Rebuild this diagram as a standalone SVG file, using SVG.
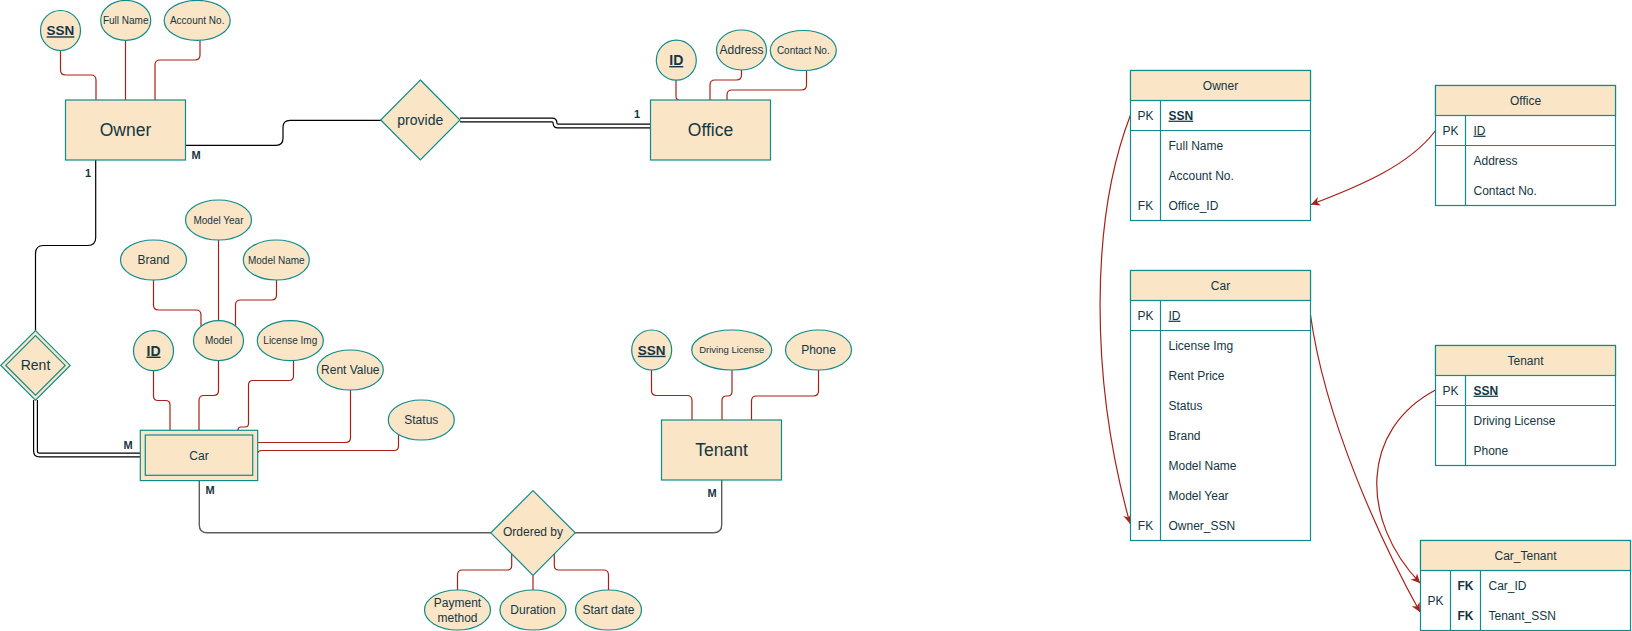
<svg xmlns="http://www.w3.org/2000/svg" width="1632" height="631" viewBox="0 0 1632 631">
<style>
.sh{fill:#FAE5C7;stroke:#0F8B8D;stroke-width:1.2}
.row{fill:#FFFFFF;stroke:#0F8B8D;stroke-width:1.2}
.ln{fill:none;stroke:#0F8B8D;stroke-width:1.2}
.t{font-family:"Liberation Sans",Arial,Helvetica,sans-serif;fill:#143642;text-anchor:middle}
.tl{font-family:"Liberation Sans",Arial,Helvetica,sans-serif;fill:#143642;text-anchor:start;font-size:12px}
.key{font-weight:bold;text-decoration:underline}
.lab{font-family:"Liberation Sans",Arial,Helvetica,sans-serif;fill:#143642;font-size:11px;font-weight:bold;text-anchor:middle}
.att{fill:none;stroke:#A8201A;stroke-width:1.2}
.rel{fill:none;stroke:#000000;stroke-width:1.2}
.grey{fill:none;stroke:#5c5c5c;stroke-width:1.4}
.dblo{fill:none;stroke:#000000;stroke-width:5}
.dbli{fill:none;stroke:#FFFFFF;stroke-width:2.6}
.fk{fill:none;stroke:#A8201A;stroke-width:1.2;marker-end:url(#arr)}
</style>
<defs>
<marker id="arr" viewBox="0 0 10 10" refX="10" refY="5" markerWidth="9" markerHeight="9" markerUnits="userSpaceOnUse" orient="auto">
<path d="M0,0 L10,5 L0,10 L3,5 z" fill="#A8201A"/>
</marker>
</defs>
<rect width="1632" height="631" fill="#FFFFFF"/>

<g id="connectors">
<!-- Owner attributes -->
<path class="att" d="M60.5,50.5 V70 Q60.5,75 65.5,75 H91 Q96,75 96,80 V100"/>
<path class="att" d="M125.5,40.5 V100"/>
<path class="att" d="M200,40.5 V55 Q200,60 195,60 H160 Q155,60 155,65 V100"/>
<!-- Office attributes -->
<path class="att" d="M676,80 V96 Q676,100 679,100"/>
<path class="att" d="M741.5,70 V75 Q741.5,80 736.5,80 H715 Q710,80 710,85 V100"/>
<path class="att" d="M806.5,70.5 V85 Q806.5,90 801.5,90 H732 Q727,90 727,95 V100"/>
<!-- Model attributes -->
<path class="att" d="M153.5,280 V305 Q153.5,310 158.5,310 H196 Q201,310 201,315 V326"/>
<path class="att" d="M218.5,240 V320.7"/>
<path class="att" d="M276.5,280 V295 Q276.5,300 271.5,300 H240.5 Q235.5,300 235.5,305 V326"/>
<!-- Car attributes -->
<path class="att" d="M153.5,370.7 V396 Q153.5,400.5 158,400.5 H165.5 Q170,400.5 170,405 V430"/>
<path class="att" d="M218.5,360.7 V390.5 Q218.5,395.5 213.5,395.5 H204 Q199,395.5 199,400.5 V430"/>
<path class="att" d="M293.5,360 V376 Q293.5,380.5 289,380.5 H253 Q248.5,380.5 248.5,385 V423.5 Q248.5,427 245,427 H241 Q238,427 238,430"/>
<path class="att" d="M350.5,390 V437.5 Q350.5,442.5 345.5,442.5 H258"/>
<path class="att" d="M398.5,434 V446 Q398.5,450.5 394,450.5 H262 Q258,450.5 258,453"/>
<!-- Tenant attributes -->
<path class="att" d="M651.5,370 V390.5 Q651.5,395.5 656.5,395.5 H687 Q692,395.5 692,400.5 V420"/>
<path class="att" d="M732,370 V391.5 Q732,396 727.5,396 H726.5 Q722,396 722,400.5 V420"/>
<path class="att" d="M818.5,370 V391 Q818.5,396 813.5,396 H756.5 Q751.5,396 751.5,401 V420"/>
<!-- Ordered by attributes -->
<path class="att" d="M511.7,553.5 V565.5 Q511.7,570 507.2,570 H462.5 Q457.5,570 457.5,575 V590"/>
<path class="att" d="M533,575.5 V590"/>
<path class="att" d="M554.3,553.5 V565.5 Q554.3,570 558.8,570 H603.5 Q608.5,570 608.5,575 V590"/>
<!-- Relationships -->
<path class="rel" d="M185.5,145.3 H276 Q283,145.3 283,138.3 V127.3 Q283,120.3 290,120.3 H381"/>
<path class="dblo" d="M460,120 H552 Q555,120 555,123 Q555,126 558,126 H650"/>
<path class="dbli" d="M460,120 H552 Q555,120 555,123 Q555,126 558,126 H650"/>
<path class="rel" d="M95.7,160 V237.5 Q95.7,245.5 87.7,245.5 H43.5 Q35.5,245.5 35.5,253.5 V331"/>
<path class="dblo" d="M35.5,400 V451 Q35.5,455 39.5,455 H140"/>
<path class="dbli" d="M35.5,400 V451 Q35.5,455 39.5,455 H140"/>
<path class="grey" d="M199.3,480.5 V525 Q199.3,532.8 207.3,532.8 H491"/>
<path class="grey" d="M575,532.8 H713.5 Q721.7,532.8 721.7,524.8 V480"/>
<!-- Foreign keys -->
<path class="fk" d="M1435.5,130.5 C1410,165 1360,186 1311,204.5"/>
<path class="fk" d="M1130.5,115 C1090,220 1090,380 1130,523.5"/>
<path class="fk" d="M1310.5,315 C1325,420 1380,540 1420,612"/>
<path class="fk" d="M1435.5,390 C1360,430 1360,520 1420,583"/>
</g>

<!-- Owner entity -->
<g id="owner">
<rect class="sh" x="65.5" y="100" width="120" height="60"/>
<text class="t" x="125.5" y="136.2" font-size="17.5">Owner</text>
</g>
<g id="owner-ssn">
<circle class="sh" cx="60.5" cy="30.5" r="20"/>
<text class="t key" x="60.5" y="35.3" font-size="13.5">SSN</text>
</g>
<g id="owner-fullname">
<ellipse class="sh" cx="125.7" cy="20.4" rx="25" ry="20"/>
<text class="t" x="125.7" y="23.9" font-size="10">Full Name</text>
</g>
<g id="owner-account">
<ellipse class="sh" cx="197.2" cy="20.4" rx="33" ry="20"/>
<text class="t" x="197.2" y="23.9" font-size="10">Account No.</text>
</g>

<!-- provide -->
<g id="provide">
<polygon class="sh" points="420.3,80 460,120 420.3,160 380.7,120"/>
<text class="t" x="420.3" y="124.9" font-size="14">provide</text>
</g>

<!-- Office -->
<g id="office">
<rect class="sh" x="650.5" y="100" width="120" height="60"/>
<text class="t" x="710.5" y="136.2" font-size="17.5">Office</text>
</g>
<g id="office-id">
<circle class="sh" cx="676.3" cy="60.2" r="20"/>
<text class="t key" x="676.3" y="65" font-size="14">ID</text>
</g>
<g id="office-address">
<ellipse class="sh" cx="741.5" cy="50" rx="25" ry="20"/>
<text class="t" x="741.5" y="54.2" font-size="12">Address</text>
</g>
<g id="office-contact">
<ellipse class="sh" cx="803.3" cy="50.5" rx="33" ry="20"/>
<text class="t" x="803.3" y="54" font-size="10">Contact No.</text>
</g>

<!-- Rent -->
<g id="rent">
<polygon class="sh" points="35.5,330.7 70.2,365.4 35.5,400.1 0.8,365.4"/>
<polygon class="ln" points="35.5,335.7 65.2,365.4 35.5,395.1 5.8,365.4"/>
<text class="t" x="35.5" y="370.3" font-size="14">Rent</text>
</g>

<!-- Car -->
<g id="car">
<rect class="sh" x="140.3" y="430.3" width="117.4" height="50.3"/>
<rect class="ln" x="145.3" y="435" width="107.4" height="40.3"/>
<text class="t" x="199" y="459.5" font-size="12">Car</text>
</g>
<g id="car-id">
<circle class="sh" cx="153.5" cy="350.7" r="20"/>
<text class="t key" x="153.5" y="355.6" font-size="14">ID</text>
</g>
<g id="car-model">
<ellipse class="sh" cx="218.5" cy="340.7" rx="25" ry="20"/>
<text class="t" x="218.5" y="344.2" font-size="10">Model</text>
</g>
<g id="car-brand">
<ellipse class="sh" cx="153.5" cy="260" rx="33" ry="20"/>
<text class="t" x="153.5" y="264.2" font-size="12">Brand</text>
</g>
<g id="car-modelyear">
<ellipse class="sh" cx="218.5" cy="220" rx="33" ry="20"/>
<text class="t" x="218.5" y="223.5" font-size="10">Model Year</text>
</g>
<g id="car-modelname">
<ellipse class="sh" cx="276.3" cy="260" rx="33" ry="20"/>
<text class="t" x="276.3" y="263.5" font-size="10">Model Name</text>
</g>
<g id="car-license">
<ellipse class="sh" cx="290.3" cy="340.7" rx="33" ry="20"/>
<text class="t" x="290.3" y="344.2" font-size="10">License Img</text>
</g>
<g id="car-rentvalue">
<ellipse class="sh" cx="350.3" cy="370" rx="33" ry="20"/>
<text class="t" x="350.3" y="374.2" font-size="12">Rent Value</text>
</g>
<g id="car-status">
<ellipse class="sh" cx="421.3" cy="420" rx="33" ry="20"/>
<text class="t" x="421.3" y="424.2" font-size="12">Status</text>
</g>

<!-- Tenant -->
<g id="tenant">
<rect class="sh" x="661.5" y="420" width="120" height="60"/>
<text class="t" x="721.5" y="456.2" font-size="17.5">Tenant</text>
</g>
<g id="tenant-ssn">
<circle class="sh" cx="651.7" cy="350" r="20"/>
<text class="t key" x="651.7" y="354.8" font-size="13.5">SSN</text>
</g>
<g id="tenant-license">
<ellipse class="sh" cx="731.7" cy="350" rx="40" ry="20"/>
<text class="t" x="731.7" y="353.4" font-size="9.5">Driving License</text>
</g>
<g id="tenant-phone">
<ellipse class="sh" cx="818.5" cy="350" rx="33" ry="20"/>
<text class="t" x="818.5" y="354.2" font-size="12">Phone</text>
</g>

<!-- Ordered by -->
<g id="orderedby">
<polygon class="sh" points="533,490.7 575.2,532.8 533,575.5 490.8,532.8"/>
<text class="t" x="533" y="536.2" font-size="12">Ordered by</text>
</g>
<g id="ord-payment">
<ellipse class="sh" cx="457.5" cy="610" rx="33" ry="20"/>
<text class="t" x="457.5" y="606.8" font-size="12">Payment</text>
<text class="t" x="457.5" y="621.5" font-size="12">method</text>
</g>
<g id="ord-duration">
<ellipse class="sh" cx="533" cy="610" rx="33" ry="20"/>
<text class="t" x="533" y="614.2" font-size="12">Duration</text>
</g>
<g id="ord-startdate">
<ellipse class="sh" cx="608.5" cy="610" rx="33" ry="20"/>
<text class="t" x="608.5" y="614.2" font-size="12">Start date</text>
</g>

<!-- Cardinality labels -->
<g id="labels">
<text class="lab" x="196" y="159">M</text>
<text class="lab" x="88" y="177">1</text>
<text class="lab" x="637" y="118">1</text>
<text class="lab" x="128" y="449">M</text>
<text class="lab" x="210" y="494">M</text>
<text class="lab" x="712" y="497">M</text>
</g>

<!-- Tables -->
<g id="tbl-owner">
<rect class="row" x="1130.5" y="70.5" width="180" height="150"/>
<rect class="sh" x="1130.5" y="70.5" width="180" height="30"/>
<path class="ln" d="M1130.5,130.5 H1310.5 M1160.5,100.5 V220.5"/>
<text class="t" x="1220.5" y="89.7" font-size="12">Owner</text>
<text class="t" x="1145.5" y="119.7" font-size="12">PK</text>
<text class="tl key" x="1168.5" y="119.7">SSN</text>
<text class="tl" x="1168.5" y="149.7">Full Name</text>
<text class="tl" x="1168.5" y="179.7">Account No.</text>
<text class="t" x="1145.5" y="209.7" font-size="12">FK</text>
<text class="tl" x="1168.5" y="209.7">Office_ID</text>
</g>
<g id="tbl-office">
<rect class="row" x="1435.5" y="85.5" width="180" height="120"/>
<rect class="sh" x="1435.5" y="85.5" width="180" height="30"/>
<path class="ln" d="M1435.5,145.5 H1615.5 M1465.5,115.5 V205.5"/>
<text class="t" x="1525.5" y="104.7" font-size="12">Office</text>
<text class="t" x="1450.5" y="134.7" font-size="12">PK</text>
<text class="tl" x="1473.5" y="134.7" text-decoration="underline">ID</text>
<text class="tl" x="1473.5" y="164.7">Address</text>
<text class="tl" x="1473.5" y="194.7">Contact No.</text>
</g>
<g id="tbl-car">
<rect class="row" x="1130.5" y="270.5" width="180" height="270"/>
<rect class="sh" x="1130.5" y="270.5" width="180" height="30"/>
<path class="ln" d="M1130.5,330.5 H1310.5 M1160.5,300.5 V540.5"/>
<text class="t" x="1220.5" y="289.7" font-size="12">Car</text>
<text class="t" x="1145.5" y="319.7" font-size="12">PK</text>
<text class="tl" x="1168.5" y="319.7" text-decoration="underline">ID</text>
<text class="tl" x="1168.5" y="349.7">License Img</text>
<text class="tl" x="1168.5" y="379.7">Rent Price</text>
<text class="tl" x="1168.5" y="409.7">Status</text>
<text class="tl" x="1168.5" y="439.7">Brand</text>
<text class="tl" x="1168.5" y="469.7">Model Name</text>
<text class="tl" x="1168.5" y="499.7">Model Year</text>
<text class="t" x="1145.5" y="529.7" font-size="12">FK</text>
<text class="tl" x="1168.5" y="529.7">Owner_SSN</text>
</g>
<g id="tbl-tenant">
<rect class="row" x="1435.5" y="345.5" width="180" height="120"/>
<rect class="sh" x="1435.5" y="345.5" width="180" height="30"/>
<path class="ln" d="M1435.5,405.5 H1615.5 M1465.5,375.5 V465.5"/>
<text class="t" x="1525.5" y="364.7" font-size="12">Tenant</text>
<text class="t" x="1450.5" y="394.7" font-size="12">PK</text>
<text class="tl key" x="1473.5" y="394.7">SSN</text>
<text class="tl" x="1473.5" y="424.7">Driving License</text>
<text class="tl" x="1473.5" y="454.7">Phone</text>
</g>
<g id="tbl-cartenant">
<rect class="row" x="1420.5" y="540.5" width="210" height="90"/>
<rect class="sh" x="1420.5" y="540.5" width="210" height="30"/>
<path class="ln" d="M1450.5,570.5 V630.5 M1480.5,570.5 V630.5"/>
<text class="t" x="1525.5" y="559.7" font-size="12">Car_Tenant</text>
<text class="t" x="1435.5" y="604.7" font-size="12">PK</text>
<text class="t" x="1465.5" y="589.7" font-size="12" font-weight="bold">FK</text>
<text class="t" x="1465.5" y="619.7" font-size="12" font-weight="bold">FK</text>
<text class="tl" x="1488.5" y="589.7">Car_ID</text>
<text class="tl" x="1488.5" y="619.7">Tenant_SSN</text>
</g>
</svg>
